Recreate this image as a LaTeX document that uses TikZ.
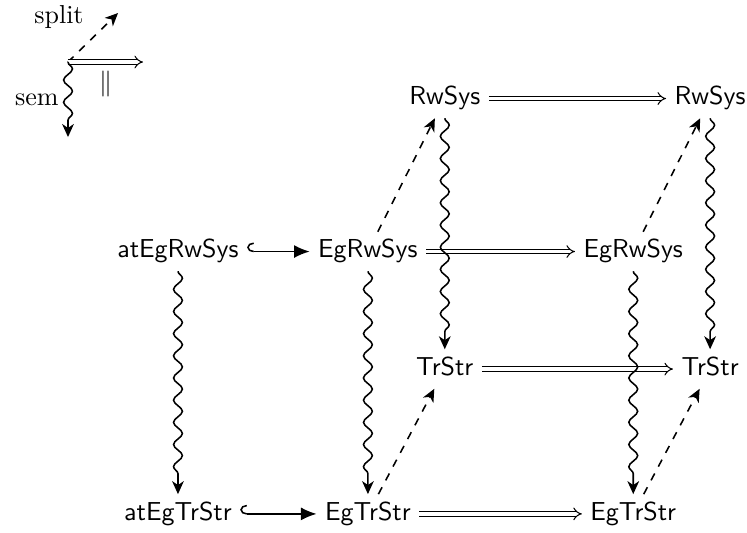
\documentclass[tikz,border=0pt]{standalone}
\usetikzlibrary{positioning, arrows.meta, decorations.pathmorphing}

\begin{document}
\begin{tikzpicture}[node distance=2cm, on grid, line width=.6pt,
  obj/.style={font=\sffamily, text height=1.55ex, text depth=.45ex, inner sep=3pt},
  sem/.style={-{Stealth[length=5pt, width=4.5pt, inset=1.5pt]}, decorate, decoration={snake, amplitude=.6mm, segment length=3mm, post length=2.2mm}},
  split/.style={dashed, -{Stealth[length=5pt, width=4.5pt, inset=1.5pt]}},
  ident/.style={line width=.4pt, double, double distance=1.3pt, -{Implies}},
  incl/.style={{Hooks[right, length=2.5pt, width=7pt]}-{Latex[length=6pt, width=5pt]}}]
  \useasboundingbox (0,0) rectangle (10.107,-7.211);
  % legend
  \coordinate (L) at (0.92,-0.839);
  \coordinate (Lsplit) at (1.597,-0.176);
  \coordinate (Lident) at (1.935,-0.839);
  \coordinate (Lsem) at (0.92,-1.854);
  \draw[split] (L) -- (Lsplit) node[midway, above left] {split};
  \draw[ident] (L) -- (Lident) node[midway, below] {$\parallel$};
  \draw[sem] (L) -- (Lsem) node[midway, left] {sem};
  % front face
  \node[obj] (atEgRwSys) at (2.408,-3.403) {atEgRwSys};
  \node[obj] (EgRwSys) [right=2.57cm of atEgRwSys] {EgRwSys};
  \node[obj] (EgRwSysB) [right=3.59cm of EgRwSys] {EgRwSys};
  \node[obj] (atEgTrStr) [below=3.55cm of atEgRwSys] {atEgTrStr};
  \node[obj] (EgTrStr) [right=2.57cm of atEgTrStr] {EgTrStr};
  \node[obj] (EgTrStrB) [right=3.59cm of EgTrStr] {EgTrStr};
  % back face
  \node[obj] (RwSys) [above right=2.07cm and 1.04cm of EgRwSys] {RwSys};
  \node[obj] (RwSysB) [right=3.59cm of RwSys] {RwSys};
  \node[obj] (TrStr) [above right=1.96cm and 1.04cm of EgTrStr] {TrStr};
  \node[obj] (TrStrB) [right=3.59cm of TrStr] {TrStr};
  % arrows
  \draw[incl] (atEgRwSys) -- (EgRwSys);
  \draw[incl] (atEgTrStr) -- (EgTrStr);
  \draw[ident] (RwSys) -- (RwSysB);
  \draw[ident] (EgRwSys) -- (EgRwSysB);
  \draw[ident] (TrStr) -- (TrStrB);
  \draw[ident] (EgTrStr) -- (EgTrStrB);
  \draw[split] (EgRwSys) -- (RwSys);
  \draw[split] (EgRwSysB) -- (RwSysB);
  \draw[split] (EgTrStr) -- (TrStr);
  \draw[split] (EgTrStrB) -- (TrStrB);
  \draw[sem] (atEgRwSys) -- (atEgTrStr);
  \draw[sem] (EgRwSys) -- (EgTrStr);
  \draw[sem] (EgRwSysB) -- (EgTrStrB);
  \draw[sem] (RwSys) -- (TrStr);
  \draw[sem] (RwSysB) -- (TrStrB);
\end{tikzpicture}
\end{document}
